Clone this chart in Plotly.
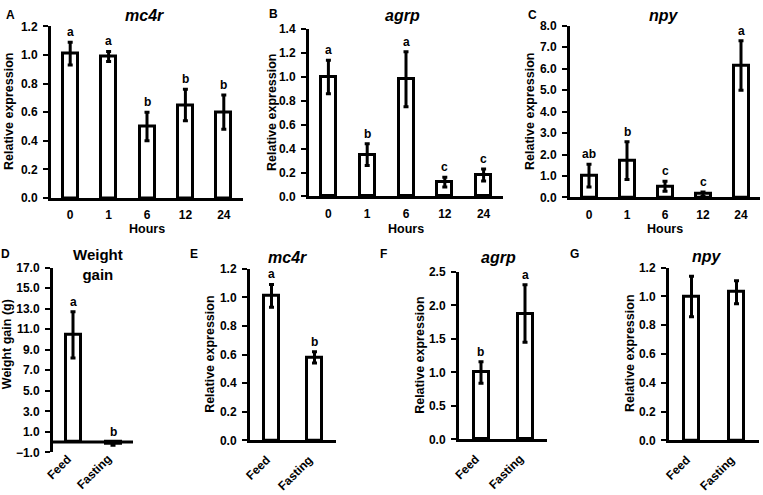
import plotly.graph_objects as go

W, H = 763, 495
FONT = "Liberation Sans, Arial, sans-serif"

# ---------------- data ----------------
hours = ["0", "1", "6", "12", "24"]
groups = ["Feed", "Fasting"]

mc4r_time = [1.01, 0.99, 0.50, 0.65, 0.60]
mc4r_time_err = [0.08, 0.035, 0.10, 0.11, 0.12]
mc4r_time_sig = ["a", "a", "b", "b", "b"]

agrp_time = [1.00, 0.35, 0.98, 0.12, 0.18]
agrp_time_err = [0.14, 0.09, 0.23, 0.04, 0.05]
agrp_time_sig = ["a", "b", "a", "c", "c"]

npy_time = [1.02, 1.72, 0.52, 0.15, 6.15]
npy_time_err = [0.53, 0.88, 0.23, 0.10, 1.15]
npy_time_sig = ["ab", "b", "c", "c", "a"]

weight_gain = [10.45, -0.20]
weight_gain_err = [2.25, 0.10]
weight_gain_sig = ["a", "b"]

mc4r_fast = [1.01, 0.58]
mc4r_fast_err = [0.08, 0.04]
mc4r_fast_sig = ["a", "b"]

agrp_fast = [1.00, 1.88]
agrp_fast_err = [0.16, 0.43]
agrp_fast_sig = ["b", "a"]

npy_fast = [1.00, 1.03]
npy_fast_err = [0.14, 0.08]
npy_fast_sig = ["", ""]

# ---------------- layout helpers ----------------
def fx(px):
    return px / W

def fy(py):
    return 1 - py / H

panels = [
    dict(L="A", title="mc4r", cats=hours, v=mc4r_time, e=mc4r_time_err, s=mc4r_time_sig,
         xd=(51, 243), yd=(20, 196.5), yr=(0, 1.2), dt=0.2, yt="Relative expression",
         lp=(10, 8), tp=(144, 9), ytx=9, yty=108, xl="Hours", rot=None),
    dict(L="B", title="agrp", cats=hours, v=agrp_time, e=agrp_time_err, s=agrp_time_sig,
         xd=(309, 503), yd=(22.7, 195), yr=(0, 1.4), dt=0.2, yt="Relative expression",
         lp=(273, 7), tp=(403, 9), ytx=272, yty=109, xl="Hours", rot=None),
    dict(L="C", title="npy", cats=hours, v=npy_time, e=npy_time_err, s=npy_time_sig,
         xd=(570, 760), yd=(19.3, 196), yr=(0, 8.0), dt=1.0, yt="Relative expression",
         lp=(532, 8), tp=(664, 9), ytx=530, yty=108, xl="Hours", rot=None),
    dict(L="D", title="Weight<br>gain", cats=groups, v=weight_gain, e=weight_gain_err, s=weight_gain_sig,
         xd=(53, 133), yd=(268.3, 458.3), yr=(-1, 17), dt=2.0, yt="Weight gain (g)",
         lp=(5, 254), tp=(98, 265), ytx=7, yty=347, xl=None, rot=455),
    dict(L="E", title="mc4r", cats=groups, v=mc4r_fast, e=mc4r_fast_err, s=mc4r_fast_sig,
         xd=(250, 336), yd=(269.3, 446), yr=(0, 1.2), dt=0.2, yt="Relative expression",
         lp=(194, 254), tp=(287, 258), ytx=210, yty=358, xl=None, rot=456),
    dict(L="F", title="agrp", cats=groups, v=agrp_fast, e=agrp_fast_err, s=agrp_fast_sig,
         xd=(459, 547), yd=(272.7, 445), yr=(0, 2.5), dt=0.5, yt="Relative expression",
         lp=(384, 254), tp=(498, 258), ytx=420, yty=359, xl=None, rot=455),
    dict(L="G", title="npy", cats=groups, v=npy_fast, e=npy_fast_err, s=npy_fast_sig,
         xd=(669, 759), yd=(268.3, 446), yr=(0, 1.2), dt=0.2, yt="Relative expression",
         lp=(574, 254), tp=(707, 257), ytx=630, yty=357, xl=None, rot=456),
]

fig = go.Figure()
annotations = []
shapes = []
BAR_PX = 15.0
BOLD = dict(family=FONT, size=12, color="black", weight="bold")

for i, p in enumerate(panels, start=1):
    sfx = "" if i == 1 else str(i)
    xa, ya = "x" + sfx, "y" + sfx
    n = len(p["cats"])
    band = (p["xd"][1] - p["xd"][0]) / n
    fig.add_trace(go.Bar(
        x=p["cats"], y=p["v"], xaxis=xa, yaxis=ya,
        width=BAR_PX / band,
        marker=dict(color="white", line=dict(color="black", width=3)),
        error_y=dict(type="data", array=p["e"], visible=True, color="black",
                     thickness=3, width=2.5),
        showlegend=False, hoverinfo="skip",
    ))
    rotated = p["rot"] is not None
    xaxis = dict(
        domain=[fx(p["xd"][0]), fx(p["xd"][1])], anchor=ya,
        type="category", range=[-0.5, n - 0.5],
        showline=p["yr"][0] == 0, linecolor="black", linewidth=3,
        ticks="", showgrid=False, zeroline=False,
        showticklabels=not rotated,
        tickfont=BOLD, ticklabelstandoff=4,
        fixedrange=True,
    )
    yaxis = dict(
        domain=[fy(p["yd"][1]), fy(p["yd"][0])], anchor=xa,
        range=list(p["yr"]), tick0=p["yr"][0], dtick=p["dt"], tickformat=".1f",
        showline=True, linecolor="black", linewidth=3,
        ticks="outside", ticklen=5, tickwidth=2, tickcolor="black",
        showgrid=False, zeroline=False,
        tickfont=BOLD, ticklabelstandoff=3,
        fixedrange=True,
    )
    fig.layout["xaxis" + sfx] = xaxis
    fig.layout["yaxis" + sfx] = yaxis

    if p["yr"][0] < 0:
        shapes.append(dict(type="line", xref=xa + " domain", yref=ya,
                           x0=0, x1=1, y0=0, y1=0,
                           line=dict(color="black", width=3)))

    # rotated category labels
    if rotated:
        for j, c in enumerate(p["cats"]):
            annotations.append(dict(
                x=j, y=fy(p["rot"]), xref=xa, yref="paper", text=c, showarrow=False,
                textangle=-45, xanchor="right", yanchor="top", xshift=4,
                font=BOLD))

    # significance letters
    for j, (v, e, s) in enumerate(zip(p["v"], p["e"], p["s"])):
        if s:
            annotations.append(dict(
                x=j, y=max(v + e, 0), xref=xa, yref=ya, text=s, showarrow=False,
                xanchor="center", yanchor="middle", yshift=10, font=BOLD))

    # panel letter
    annotations.append(dict(x=fx(p["lp"][0]), y=fy(p["lp"][1]), xref="paper", yref="paper",
                            text=p["L"], showarrow=False, xanchor="center", yanchor="middle",
                            font=BOLD))
    # panel title
    if p["L"] == "D":
        tfont = dict(family=FONT, size=15, color="black", weight="bold")
    else:
        tfont = dict(family=FONT, size=16, color="black", weight="bold", style="italic")
    annotations.append(dict(x=fx(p["tp"][0]), y=fy(p["tp"][1]), xref="paper", yref="paper",
                            text=p["title"], showarrow=False, xanchor="center", yanchor="middle",
                            font=tfont))
    # y axis title
    annotations.append(dict(x=fx(p["ytx"]), y=fy(p["yty"]),
                            xref="paper", yref="paper", text=p["yt"], textangle=-90,
                            showarrow=False, xanchor="center", yanchor="middle",
                            font=dict(family=FONT, size=12.5, color="black", weight="bold")))
    # x axis title
    if p["xl"]:
        annotations.append(dict(x=fx((p["xd"][0] + p["xd"][1]) / 2), y=fy(228),
                                xref="paper", yref="paper", text=p["xl"], showarrow=False,
                                xanchor="center", yanchor="middle",
                                font=dict(family=FONT, size=12.5, color="black", weight="bold")))

fig.update_layout(
    width=W, height=H, margin=dict(l=0, r=0, t=0, b=0),
    paper_bgcolor="white", plot_bgcolor="white",
    annotations=annotations, shapes=shapes, showlegend=False,
    bargap=0,
)
fig.write_html("out.html", config={"displayModeBar": False},
               post_script="document.body.style.margin='0';")
